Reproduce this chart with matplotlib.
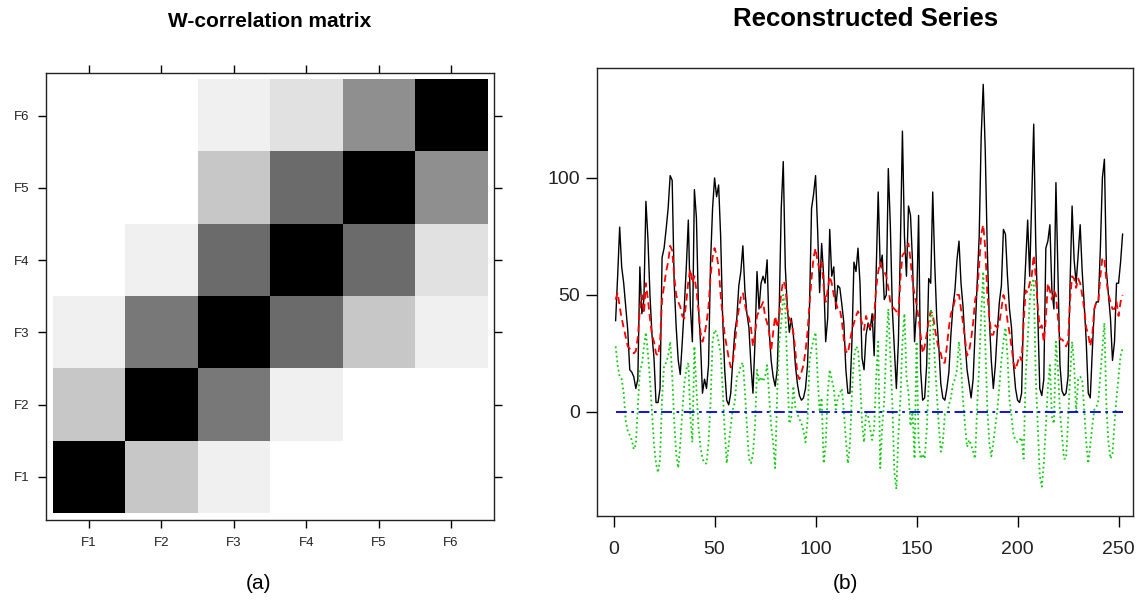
#!/usr/bin/env python3
"""
SSA decomposition figure: (a) W-correlation matrix of the first six
elementary components, (b) original series with reconstructed components.
"""

import matplotlib
matplotlib.use("Agg")
import matplotlib.pyplot as plt
import numpy as np

plt.rcParams["font.family"] = ["Liberation Sans", "DejaVu Sans"]

# ── W-correlation matrix (rows/cols F1..F6) ──────────────────────────────────
COMPONENTS = ["F1", "F2", "F3", "F4", "F5", "F6"]
WCOR_F1 = [1.00, 0.22, 0.06, 0.00, 0.00, 0.00]
WCOR_F2 = [0.22, 1.00, 0.53, 0.06, 0.00, 0.00]
WCOR_F3 = [0.06, 0.53, 1.00, 0.58, 0.22, 0.06]
WCOR_F4 = [0.00, 0.06, 0.58, 1.00, 0.58, 0.12]
WCOR_F5 = [0.00, 0.00, 0.22, 0.58, 1.00, 0.44]
WCOR_F6 = [0.00, 0.00, 0.06, 0.12, 0.44, 1.00]

# ── Series (monthly, 252 obs) ────────────────────────────────────────────────
ORIGINAL = [
    39, 58, 79, 62, 55, 45, 35, 18, 17, 15, 10, 14, 62, 42, 48, 90, 74, 50, 33, 23,
    4, 4, 10, 66, 70, 78, 87, 101, 99, 55, 36, 22, 16, 30, 45, 62, 82, 45, 30, 95,
    83, 45, 30, 8, 14, 10, 20, 64, 87, 100, 92, 97, 75, 40, 18, 5, 3, 8, 22, 34,
    40, 54, 60, 71, 52, 42, 36, 20, 8, 30, 60, 44, 55, 58, 55, 65, 35, 22, 15, 11,
    18, 44, 87, 107, 62, 45, 34, 40, 33, 20, 12, 7, 5, 6, 10, 20, 45, 87, 93, 101,
    78, 51, 72, 58, 30, 40, 78, 58, 62, 44, 54, 53, 46, 38, 18, 8, 8, 30, 64, 60,
    70, 55, 23, 18, 33, 38, 35, 42, 24, 60, 94, 62, 67, 48, 50, 104, 80, 44, 27, 10,
    30, 72, 120, 75, 58, 88, 84, 64, 30, 44, 84, 18, 5, 6, 20, 57, 55, 94, 63, 40,
    28, 12, 6, 5, 10, 17, 33, 45, 52, 65, 73, 55, 45, 30, 18, 12, 6, 14, 35, 55,
    75, 118, 140, 112, 70, 40, 22, 10, 20, 35, 47, 54, 78, 76, 58, 44, 36, 20, 10, 5,
    4, 8, 45, 64, 82, 58, 90, 123, 72, 42, 10, 7, 14, 70, 73, 80, 52, 44, 98, 58,
    20, 9, 7, 8, 15, 55, 88, 65, 55, 67, 80, 60, 46, 30, 8, 6, 26, 44, 47, 47,
    70, 100, 108, 60, 50, 40, 22, 30, 55, 55, 64, 76,
]

RECONSTRUCTED = [
    48, 51, 45, 40, 36, 32, 28, 27, 26, 25, 26, 32, 44, 50, 42, 55, 48, 40, 33, 30,
    25, 24, 30, 48, 54, 60, 64, 71, 69, 58, 50, 47, 45, 41, 40, 47, 56, 61, 55, 58,
    52, 44, 34, 30, 33, 38, 45, 58, 66, 70, 67, 62, 50, 41, 33, 28, 23, 19, 21, 28,
    38, 44, 49, 51, 46, 42, 40, 36, 28, 33, 41, 43, 45, 47, 41, 38, 34, 26, 34, 41,
    36, 41, 51, 56, 54, 44, 40, 38, 34, 26, 16, 14, 17, 20, 26, 34, 46, 57, 66, 70,
    64, 61, 64, 54, 47, 52, 58, 55, 50, 47, 44, 44, 39, 31, 26, 25, 30, 35, 38, 41,
    43, 41, 38, 35, 41, 38, 36, 38, 41, 53, 60, 64, 61, 60, 58, 53, 47, 45, 44, 43,
    41, 57, 67, 68, 70, 72, 65, 56, 50, 46, 40, 33, 25, 28, 33, 39, 43, 42, 36, 31,
    27, 25, 21, 21, 28, 36, 42, 44, 48, 50, 50, 44, 38, 31, 24, 26, 31, 38, 48, 51,
    63, 76, 80, 70, 51, 41, 33, 33, 37, 36, 38, 44, 50, 47, 39, 34, 28, 21, 18, 21,
    24, 22, 38, 52, 51, 55, 58, 67, 58, 45, 36, 37, 30, 40, 55, 52, 48, 52, 50, 40,
    31, 31, 30, 28, 30, 48, 58, 57, 53, 57, 55, 50, 44, 36, 33, 28, 33, 44, 47, 47,
    58, 66, 65, 56, 50, 47, 44, 44, 47, 41, 47, 50,
]

SEASONAL = [
    28, 20, 15, 14, 8, -4, -8, -10, -12, -16, -14, 2, 18, 20, 28, 34, 25, 14, 0, -14,
    -22, -26, -20, 6, 20, 21, 24, 30, 16, -4, -18, -24, -14, 0, 12, 18, 21, -2, -13, 28,
    10, -6, -15, -20, -22, -22, -13, 4, 30, 35, 34, 30, 25, 10, -8, -22, -14, -6, 1, 4,
    15, 16, 20, 21, 9, -6, -20, -22, -18, -6, 18, 13, 15, 13, 15, 20, 7, -6, -13, -24,
    8, 30, 38, 50, 44, 18, -5, -2, 11, 2, -1, -3, -5, -8, -13, -4, 22, 27, 31, 34,
    15, 0, 6, -22, -14, 8, 18, 14, 10, 1, 6, 8, 10, 0, -12, -22, -14, 8, 23, 28,
    27, 15, -5, -13, 0, -2, -7, -12, -7, 15, 30, -24, -6, 5, 28, 44, 24, 4, -26, -33,
    -10, 6, 30, 42, 15, 8, -6, 0, -20, 30, -12, -20, -18, -20, -8, 12, 44, 40, 22, 8,
    -6, -17, -13, -1, -1, 3, 6, 12, 14, 18, 30, 20, 5, -6, -15, -12, -14, -17, -20, 2,
    20, 42, 60, 30, 2, -13, -19, -13, -6, 1, 11, 22, 30, 36, 24, 5, -2, -10, -12, -13,
    -12, -11, -20, 15, 30, 47, 55, 57, 15, -6, -27, -32, -22, -6, 10, 20, -2, -5, 30, 18,
    0, -10, -20, -20, -4, 15, 30, 20, 0, 14, 15, 14, 1, -13, -22, -14, -6, 1, 2, 5,
    16, 27, 38, 2, -13, -20, -18, -5, 6, 15, 24, 27,
]

X_TICKS = [0, 50, 100, 150, 200, 250]
Y_TICKS = [0, 50, 100]


# ── Figure ───────────────────────────────────────────────────────────────────
fig = plt.figure(figsize=(11.42, 6.05), dpi=100)

# (a) W-correlation matrix
ax_a = fig.add_axes([0.0403, 0.1405, 0.3923, 0.7395])
wcor = np.array([WCOR_F1, WCOR_F2, WCOR_F3, WCOR_F4, WCOR_F5, WCOR_F6])
n = len(COMPONENTS)
pos = np.arange(1, n + 1)
ax_a.imshow(wcor, cmap="gray_r", vmin=0, vmax=1, origin="lower",
            extent=(0.5, n + 0.5, 0.5, n + 0.5), interpolation="nearest",
            aspect="auto")
pad = 0.095
ax_a.set_xlim(0.5 - pad, n + 0.5 + pad)
ax_a.set_ylim(0.5 - pad, n + 0.5 + pad)
ax_a.set_xticks(pos)
ax_a.set_yticks(pos)
ax_a.set_xticklabels(COMPONENTS)
ax_a.set_yticklabels(COMPONENTS)
ax_a.tick_params(direction="out", length=6, width=1, labelsize=9.5,
                 top=True, right=True, labeltop=False, labelright=False,
                 colors="black", labelcolor="#222222", pad=6)
for sp in ax_a.spines.values():
    sp.set_linewidth(1.0)
    sp.set_color("#222222")
ax_a.set_title("W-correlation matrix", fontsize=15, fontweight="bold", pad=33)
fig.text(0.226, 0.035, "(a)", ha="center", va="center", fontsize=15)

# (b) Reconstructed series
ax_b = fig.add_axes([0.5228, 0.1471, 0.4694, 0.7405])
t = np.arange(1, len(ORIGINAL) + 1)
ax_b.plot(t, ORIGINAL, color="black", lw=1.0)
ax_b.plot(t, RECONSTRUCTED, color="#ff0000", lw=1.3, dashes=(4, 2.5))
ax_b.plot(t, SEASONAL, color="#11cc11", lw=1.3, dashes=(1, 1.6))
ax_b.hlines(0, t[0], t[-1], color="#0000dd", lw=1.3, linestyles=[(0, (6, 2.5, 1.5, 2.5))])
ax_b.set_xlim(-8.2, 257.2)
ax_b.set_ylim(-44.5, 147)
ax_b.set_xticks(X_TICKS)
ax_b.set_yticks(Y_TICKS)
ax_b.tick_params(axis="x", direction="out", length=8, width=1, labelsize=14,
                 colors="black", labelcolor="#222222", pad=10)
ax_b.tick_params(axis="y", direction="out", length=8, width=1, labelsize=14,
                 colors="black", labelcolor="#222222", pad=4)
for sp in ax_b.spines.values():
    sp.set_linewidth(1.0)
    sp.set_color("#222222")
ax_b.set_title("Reconstructed Series", fontsize=18.5, fontweight="bold", pad=30)
fig.text(0.74, 0.035, "(b)", ha="center", va="center", fontsize=15)

plt.savefig("out.png", dpi=100)
plt.close()
